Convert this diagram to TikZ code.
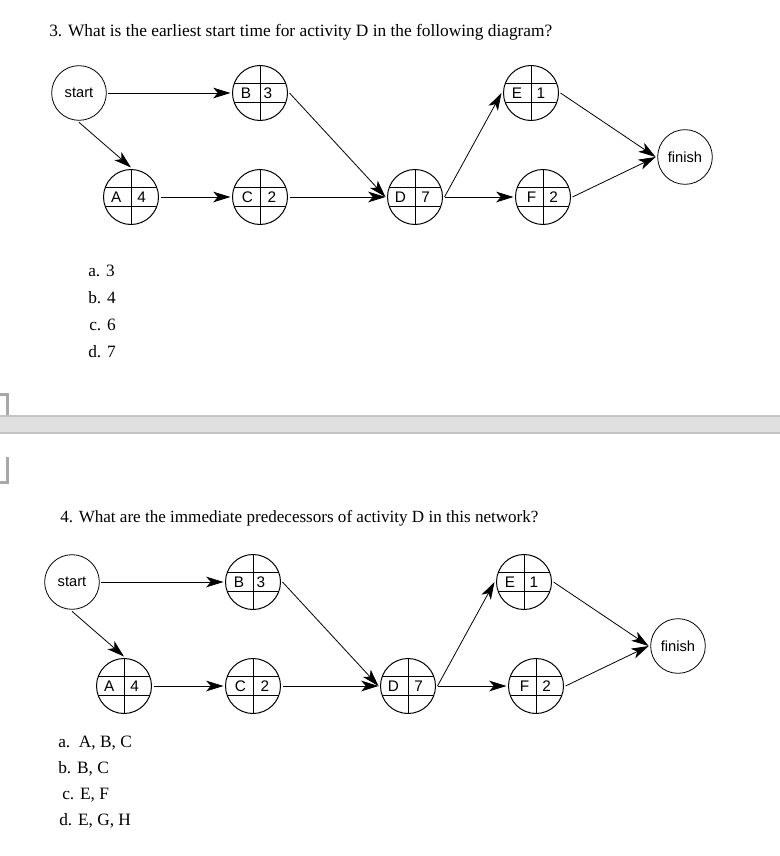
\documentclass[tikz,border=0pt]{standalone}
\usepackage{fontspec}
\setmainfont{Liberation Serif}
\newfontfamily\arialfam{Liberation Sans}
\usetikzlibrary{arrows.meta}
\definecolor{sepborder}{RGB}{196,196,196}
\definecolor{sepfill}{RGB}{224,224,224}
\definecolor{brackgray}{RGB}{168,168,168}
\newcommand{\drawnet}[3]{%
\begin{scope}[shift={(#2,#3)}]
  \node[ev] (#1st) at (79,93) {start};
  \node[act] (#1B) at (260,93) {};
  \node[act] (#1A) at (131,197) {};
  \node[act] (#1C) at (260,197) {};
  \node[act] (#1D) at (415,197) {};
  \node[act] (#1E) at (531,93) {};
  \node[act] (#1F) at (543,197) {};
  \node[ev] (#1fin) at (685,157) {finish};
  \node[lbl] (#1Bl) at ([xshift=-10.5pt]#1B.center) {B};
  \node[lbl] (#1Bn) at ([xshift=6pt]#1B.center) {3};
  \node[lbl] (#1Al) at ([xshift=-11pt]#1A.center) {A};
  \node[lbl] (#1An) at ([xshift=8pt]#1A.center) {4};
  \node[lbl] (#1Cl) at ([xshift=-9.5pt]#1C.center) {C};
  \node[lbl] (#1Cn) at ([xshift=9pt]#1C.center) {2};
  \node[lbl] (#1Dl) at ([xshift=-11pt]#1D.center) {D};
  \node[lbl] (#1Dn) at ([xshift=8pt]#1D.center) {7};
  \node[lbl] (#1El) at ([xshift=-10.5pt]#1E.center) {E};
  \node[lbl] (#1En) at ([xshift=7.5pt]#1E.center) {1};
  \node[lbl] (#1Fl) at ([xshift=-8.5pt]#1F.center) {F};
  \node[lbl] (#1Fn) at ([xshift=8pt]#1F.center) {2};
  \draw[arr] (#1st.east) -- (#1B.west);
  \draw[arr] (#1st.south) -- (#1A.north);
  \draw[arr] (#1A.east) -- (#1C.west);
  \draw[arr] (#1B.east) -- (#1D.west);
  \draw[arr] (#1C.east) -- (#1D.west);
  \draw[arr] (#1D.east) -- (#1E.west);
  \draw[arr] (#1D.east) -- (#1F.west);
  \draw[arr] (#1E.east) -- (#1fin.west);
  \draw[arr] (#1F.east) -- (#1fin.west);
\end{scope}}
\begin{document}
\begin{tikzpicture}[x=0.75pt,y=-0.75pt,
  act/.style={circle,draw,line width=0.75pt,minimum size=41.25pt,inner sep=0pt,outer sep=1.5pt,
    path picture={
      \draw[line width=0.75pt] (path picture bounding box.north) -- (path picture bounding box.south);
      \draw[line width=0.75pt] ([yshift=7.1pt]path picture bounding box.west) -- ([yshift=7.1pt]path picture bounding box.east);
      \draw[line width=0.75pt] ([yshift=-7.1pt]path picture bounding box.west) -- ([yshift=-7.1pt]path picture bounding box.east);}},
  ev/.style={circle,draw,line width=0.6pt,minimum size=41pt,inner sep=0pt,outer sep=1.5pt,font=\arialfam\fontsize{11}{13}\selectfont},
  lbl/.style={font=\arialfam\fontsize{11.5}{13}\selectfont,inner sep=0pt},
  arr/.style={line width=0.6pt,-{Stealth[length=13pt,width=8pt,inset=3.5pt]}},
  qtext/.style={anchor=base west,inner sep=0pt,font=\fontsize{13}{15.6}\selectfont}
]
\useasboundingbox (0,0) rectangle (780,856);
\fill[white] (0,0) rectangle (780,856);

% Question 3
\node[qtext] (q3) at (49,37) {3. What is the earliest start time for activity D in the following diagram?};
\drawnet{t}{0}{0}
\node[qtext] (q3a) at (88,276) {a. 3};
\node[qtext] (q3b) at (88,303) {b. 4};
\node[qtext] (q3c) at (89,330) {c. 6};
\node[qtext] (q3d) at (88,357) {d. 7};

% separator
\draw[brackgray,line width=2.25pt] (0,394.5) -- (7.5,394.5) -- (7.5,415);
\fill[sepfill] (0,415) rectangle (780,434);
\fill[sepborder] (0,415) rectangle (780,417);
\fill[sepborder] (0,432) rectangle (780,434);
\draw[brackgray,line width=2.25pt] (7.5,457) -- (7.5,482.5) -- (0,482.5);

% Question 4
\node[qtext,font=\fontsize{12.8}{15.4}\selectfont] (q4) at (60,522) {4. What are the immediate predecessors of activity D in this network?};
\drawnet{b}{-7}{489}
\node[qtext] (q4a) at (58,747) {a.\ \ A, B, C};
\node[qtext] (q4b) at (58,773) {b. B, C};
\node[qtext] (q4c) at (62,799) {c. E, F};
\node[qtext] (q4d) at (59,825) {d. E, G, H};
\end{tikzpicture}
\end{document}
